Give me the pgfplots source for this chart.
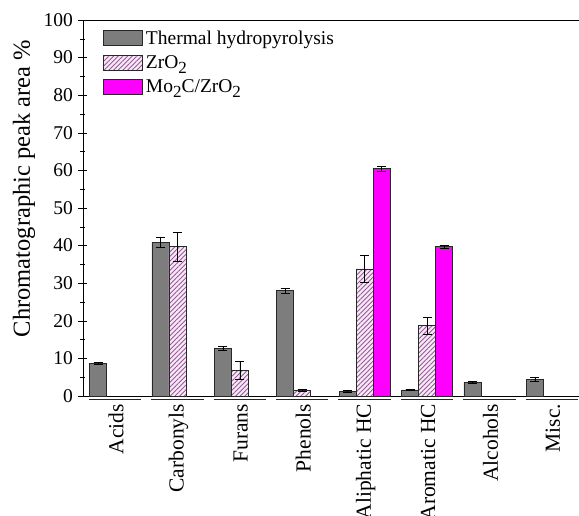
\documentclass[border=0pt]{standalone}
\usepackage{fontspec}
\setmainfont{Liberation Serif}
\usepackage{pgfplots}
\usepackage{pgfplotstable}
\pgfplotsset{compat=1.18}
\usetikzlibrary{patterns.meta}

\definecolor{thgray}{RGB}{125,125,125}
\definecolor{hatchc}{RGB}{150,90,150}
\definecolor{hatchbg}{RGB}{248,232,248}
\definecolor{mag}{RGB}{255,0,255}
\definecolor{edge}{RGB}{40,40,40}

\newcommand{\sub}[1]{\raisebox{-5pt}{\fontsize{17}{17}\selectfont #1}}

% thermal hydropyrolysis
\pgfplotstableread{
x y e
0 8.7 0.2
1 40.9 1.4
2 12.6 0.5
3 28.0 0.6
4 1.2 0.3
5 1.6 0.2
6 3.7 0.3
7 4.5 0.5
}\thermal
% ZrO2
\pgfplotstableread{
x y e
1 39.7 3.8
2 6.9 2.4
3 1.6 0.3
4 33.8 3.5
5 18.7 2.3
}\zro
% Mo2C/ZrO2
\pgfplotstableread{
x y e
4 60.4 0.6
5 39.7 0.5
}\moc

\begin{document}
\begin{tikzpicture}
\begin{axis}[
  scale only axis,
  width=500pt, height=376pt,
  xmin=-0.513, xmax=7.5,
  ymin=0, ymax=100,
  clip=false,
  ybar,
  bar width=17pt,
  ytick={0,10,...,100},
  minor y tick num=1,
  ytick pos=left,
  tick align=center,
  major tick length=9pt,
  minor tick length=5pt,
  tick style={black, line width=0.6pt},
  axis line style={black, line width=0.8pt},
  xtick={0,...,7},
  xticklabels={Acids,Carbonyls,Furans,Phenols,Aliphatic HC,Aromatic HC,Alcohols,Misc.},
  x tick style={draw=none},
  xticklabel style={rotate=90, anchor=east, font=\fontsize{21.5}{21.5}\selectfont, yshift=-1pt},
  yticklabel style={font=\fontsize{19.5}{19.5}\selectfont, xshift=-2pt},
  /pgf/number format/assume math mode=true,
  ylabel={Chromatographic peak area \%},
  every axis y label/.style={at={(axis description cs:-0.118,0.552)}, rotate=90, anchor=center, font=\fontsize{24.5}{24.5}\selectfont},
  legend style={at={(axis description cs:0.04,0.978)}, anchor=north west, draw=none, fill=none,
     font=\fontsize{19.5}{19.5}\selectfont, row sep=6pt, inner sep=0pt, cells={anchor=west},
     nodes={inner xsep=3pt}},
  legend image code/.code={\draw[#1] (0pt,-7.5pt) rectangle (39pt,7.5pt);},
  error bars/error bar style={black, line width=0.6pt},
  error bars/error mark options={rotate=90, mark size=4.5pt, black, line width=0.6pt},
]
\addplot[fill=thgray, draw=edge, line width=0.8pt, bar shift=-17pt,
  error bars/.cd, y dir=both, y explicit]
  table[x=x, y=y, y error=e]{\thermal};
\addlegendentry{Thermal hydropyrolysis}
\addplot[fill=hatchbg, postaction={pattern={Lines[angle=45,distance=3.3pt,line width=0.9pt]}, pattern color=hatchc}, draw=edge, line width=0.8pt, bar shift=0pt,
  error bars/.cd, y dir=both, y explicit]
  table[x=x, y=y, y error=e]{\zro};
\addlegendentry{ZrO\sub{2}\rule[-10pt]{0pt}{1pt}}
\addplot[fill=mag, draw=edge, line width=0.8pt, bar shift=17pt,
  error bars/.cd, y dir=both, y explicit]
  table[x=x, y=y, y error=e]{\moc};
\addlegendentry{Mo\sub{2}C/ZrO\sub{2}}
\pgfplotsinvokeforeach{0,...,7}{
  \draw[line width=1.8pt, black!85] (axis cs:#1-0.42,-0.95) -- (axis cs:#1+0.42,-0.95);
}
\end{axis}
\pgfresetboundingbox
\path[use as bounding box] ([xshift=-83pt,yshift=-119pt]current axis.south west) rectangle ([xshift=-4pt,yshift=20pt]current axis.north east);
\end{tikzpicture}
\end{document}
